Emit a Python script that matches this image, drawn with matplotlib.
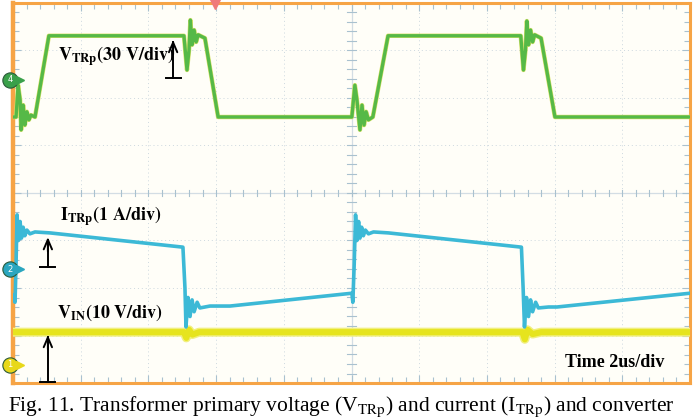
import numpy as np
import matplotlib
matplotlib.use("Agg")
import matplotlib.pyplot as plt
from matplotlib.ticker import MultipleLocator

plt.rcParams["mathtext.fontset"] = "stix"
plt.rcParams["font.family"] = ["Liberation Serif", "DejaVu Serif"]

# time in us (2 us/div, 10 div), amplitude in screen divisions (8 div)
T_VTR = [0.00, 0.09, 0.15, 0.21, 0.24, 0.30, 0.35, 0.41, 0.47, 0.53, 0.65, 1.06,
         5.05, 5.14, 5.20, 5.24, 5.29, 5.35, 5.41, 5.47, 5.67, 6.06,
         10.01, 10.10, 10.16, 10.25, 10.31, 10.37, 10.43, 10.50, 10.63, 11.08,
         15.00, 15.08, 15.14, 15.18, 15.23, 15.29, 15.35, 15.41, 15.60, 16.01, 20.00]
V_VTR = [1.60, 1.60, 2.27, 1.96, 1.33, 1.85, 1.43, 1.71, 1.54, 1.64, 1.60, 3.31,
         3.31, 2.59, 3.01, 3.64, 3.12, 3.43, 3.18, 3.33, 3.26, 1.60,
         1.60, 2.27, 1.96, 1.33, 1.85, 1.43, 1.71, 1.54, 1.60, 3.31,
         3.31, 2.59, 3.01, 3.62, 3.12, 3.43, 3.18, 3.33, 3.26, 1.60, 1.60]

T_ITR = [0.00, 0.06, 0.09, 0.12, 0.16, 0.21, 0.25, 0.30, 0.35, 0.41, 0.50, 0.65, 1.09,
         5.02, 5.08, 5.11, 5.17, 5.23, 5.29, 5.35, 5.44, 5.52, 5.82, 6.41,
         10.01, 10.04, 10.08, 10.12, 10.16, 10.21, 10.25, 10.30, 10.35, 10.41, 10.50, 10.65, 11.09,
         15.02, 15.07, 15.11, 15.17, 15.23, 15.29, 15.35, 15.44, 15.52, 15.82, 16.07, 20.00]
V_ITR = [-2.15, -2.30, -1.50, -0.46, -1.00, -0.60, -0.95, -0.72, -0.90, -0.78, -0.86, -0.82, -0.84,
         -1.14, -2.00, -2.82, -2.20, -2.60, -2.25, -2.50, -2.30, -2.42, -2.38, -2.38,
         -2.11, -2.30, -1.50, -0.46, -1.00, -0.60, -0.95, -0.72, -0.90, -0.78, -0.86, -0.82, -0.84,
         -1.14, -2.00, -2.82, -2.20, -2.60, -2.25, -2.50, -2.30, -2.42, -2.40, -2.40, -2.11]

T_VIN = [0.00, 5.05, 5.12, 5.20, 5.30, 5.50, 15.05, 15.12, 15.20, 15.35, 15.60, 20.00]
V_VIN = [-2.93, -2.93, -3.05, -2.88, -2.98, -2.93, -2.93, -3.08, -2.88, -2.97, -2.93, -2.93]

GREEN, CYAN, YELLOW = "#56b947", "#3cb9d6", "#e6e41e"
ORANGE = "#f6a446"
TICKC = "#a9c1cf"

fig = plt.figure(figsize=(6.94, 4.18), dpi=100)
ax = fig.add_axes([13 / 694, 1 - 383 / 418, 677 / 694, 380 / 418])
ax.set_facecolor("#fffef8")
ax.set_xlim(0, 20)
ax.set_ylim(-4, 4)

# graticule
for gx in np.arange(2, 20, 2):
    ax.axvline(gx, color="#cdd8df", lw=0.7, ls=(0, (1, 3)), zorder=1)
for gy in np.arange(-3, 4, 1):
    ax.axhline(gy, color="#cdd8df", lw=0.7, ls=(0, (1, 3)), zorder=1)
ax.axvline(10, color="#d3dde4", lw=0.9, zorder=1)
ax.axhline(0, color="#d3dde4", lw=0.9, zorder=1)
cy = np.arange(-4, 4.01, 0.2)
cx = np.arange(0, 20.01, 0.4)
ax.plot(np.vstack([np.full_like(cy, 9.88), np.full_like(cy, 10.12)]),
        np.vstack([cy, cy]), color=TICKC, lw=0.8, zorder=1)
ax.plot(np.vstack([cx, cx]),
        np.vstack([np.full_like(cx, -0.07), np.full_like(cx, 0.07)]),
        color=TICKC, lw=0.8, zorder=1)

ax.xaxis.set_major_locator(MultipleLocator(2))
ax.xaxis.set_minor_locator(MultipleLocator(0.4))
ax.yaxis.set_major_locator(MultipleLocator(1))
ax.yaxis.set_minor_locator(MultipleLocator(0.2))
ax.tick_params(which="both", direction="in", top=True, right=True,
               labelbottom=False, labelleft=False, color=TICKC, width=0.8)
ax.tick_params(which="major", length=6)
ax.tick_params(which="minor", length=4)
for side, sp in ax.spines.items():
    sp.set_color(ORANGE)
    sp.set_linewidth(3.2 if side == "left" else 2.2)

# traces
ax.plot(T_VIN, V_VIN, color="#f1ef80", lw=6.5, solid_joinstyle="round", zorder=3)
ax.plot(T_VIN, V_VIN, color=YELLOW, lw=4.4, solid_joinstyle="round", zorder=3)
ax.plot(T_ITR, V_ITR, color=CYAN, lw=2.6, solid_joinstyle="round", zorder=4)
ax.plot(T_VTR, V_VTR, color="#d9e26a", lw=3.2, solid_joinstyle="round", zorder=4)
ax.plot(T_VTR, V_VTR, color=GREEN, lw=2.4, solid_joinstyle="round", zorder=5)

# channel markers and trigger marker
for yv, c, lab in [(2.38, "#3aa04a", "4"), (-1.60, "#2aa6bf", "2"), (-3.62, "#e8d81a", "1")]:
    ax.plot([-0.09], [yv], marker="o", ms=11, color=c, mec="#2b5a3a", mew=0.8,
            clip_on=False, zorder=8)
    ax.plot([0.20], [yv], marker=">", ms=6, color=c, clip_on=False, zorder=8)
    ax.text(-0.09, yv, lab, color="white", fontsize=6, ha="center", va="center",
            family="DejaVu Sans", clip_on=False, zorder=9)
ax.plot([5.97], [3.97], marker="v", ms=7, color="#f07a7a", clip_on=False, zorder=8)

# annotations: tee at the bottom, open arrow head at the top
for xa, y0, y1 in [(4.73, 2.42, 3.22), (1.03, -1.56, -0.93), (1.03, -3.98, -2.99)]:
    ax.plot([xa, xa], [y0, y1 - 0.05], color="black", lw=1.4, zorder=7)
    ax.plot([xa - 0.22, xa + 0.22], [y0, y0], color="black", lw=1.4, zorder=7)
    ax.annotate("", xy=(xa, y1), xytext=(xa, y1 - 0.3),
                arrowprops=dict(arrowstyle="->,head_length=0.7,head_width=0.3",
                                color="black", lw=1.4, shrinkA=0, shrinkB=0), zorder=7)
ax.text(1.33, 2.88, r"$\mathbf{V_{TRp}(30\ V/div)}$", fontsize=13, va="center", zorder=7)
ax.text(1.39, -0.48, r"$\mathbf{I_{TRp}(1\ A/div)}$", fontsize=13, va="center", zorder=7)
ax.text(1.30, -2.53, r"$\mathbf{V_{IN}(10\ V/div)}$", fontsize=13, va="center", zorder=7)
ax.text(16.31, -3.56, "Time 2us/div", fontsize=13, fontweight="bold", va="center", zorder=7)

fig.text(8 / 694, 7 / 418,
         r"Fig. 11. Transformer primary voltage (V$_{\rm TRp}$) and current (I$_{\rm TRp}$) and converter",
         fontsize=15.5, va="baseline", ha="left")

fig.savefig("out.png", dpi=100)
